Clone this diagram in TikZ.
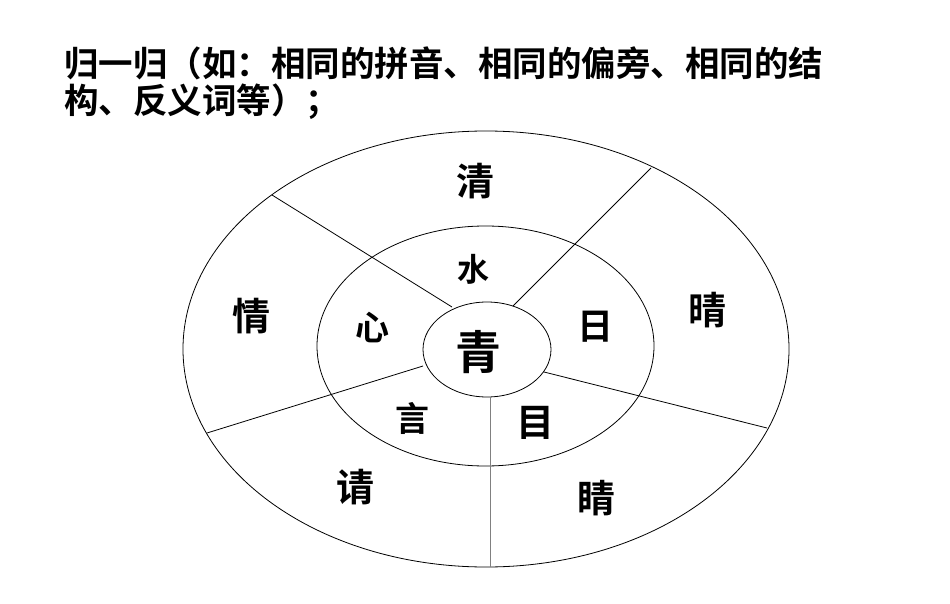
\documentclass[tikz,border=0pt]{standalone}
\usepackage{fontspec}
\newfontfamily\cjk{Noto Sans CJK SC Bold}
\begin{document}
\begin{tikzpicture}[x=1pt,y=-1pt,
  ring/.style={draw,line width=0.8pt},
  sep/.style={draw,line width=0.8pt},
  lab/.style={font=\cjk\fontsize{#1}{#1}\selectfont,inner sep=0pt}]
\useasboundingbox[fill=white] (0,0) rectangle (950,604);
\node[anchor=west,font=\cjk\fontsize{34.5}{34.5}\selectfont,inner sep=0pt] (t1) at (64,63) {归一归（如：相同的拼音、相同的偏旁、相同的结};
\node[anchor=west,font=\cjk\fontsize{34.5}{34.5}\selectfont,inner sep=0pt] (t2) at (64,102) {构、反义词等）；};
\draw[ring] (486,349) ellipse [x radius=303, y radius=218];
\draw[ring] (485.5,346) ellipse [x radius=168.5, y radius=120];
\draw[ring] (487,349.5) ellipse [x radius=64, y radius=47.5];
\coordinate (a1) at (452,307); \coordinate (b1) at (272,195);
\coordinate (a2) at (513,306); \coordinate (b2) at (651,168);
\coordinate (a3) at (544,372); \coordinate (b3) at (767,428);
\coordinate (a4) at (490,397); \coordinate (b4) at (490,567);
\coordinate (a5) at (423,366); \coordinate (b5) at (207,433);
\foreach \i in {1,2,3,5} \draw[sep] (a\i) -- (b\i);
\draw[sep,draw=gray] (a4) -- (b4);
\node[lab=38] (qing1) at (475,181) {清};
\node[lab=32] (shui) at (473,269) {水};
\node[lab=38] (qing2) at (707,310) {晴};
\node[lab=36] (ri) at (595,327) {日};
\node[lab=38] (qing3) at (251,316) {情};
\node[lab=34] (xin) at (372,328) {心};
\node[lab=46] (qing) at (478,352) {青};
\node[lab=34] (yan) at (412,418) {言};
\node[lab=38] (mu) at (535,423) {目};
\node[lab=38] (qing4) at (355,487) {请};
\node[lab=38] (jing) at (596,498) {睛};
\end{tikzpicture}
\end{document}
